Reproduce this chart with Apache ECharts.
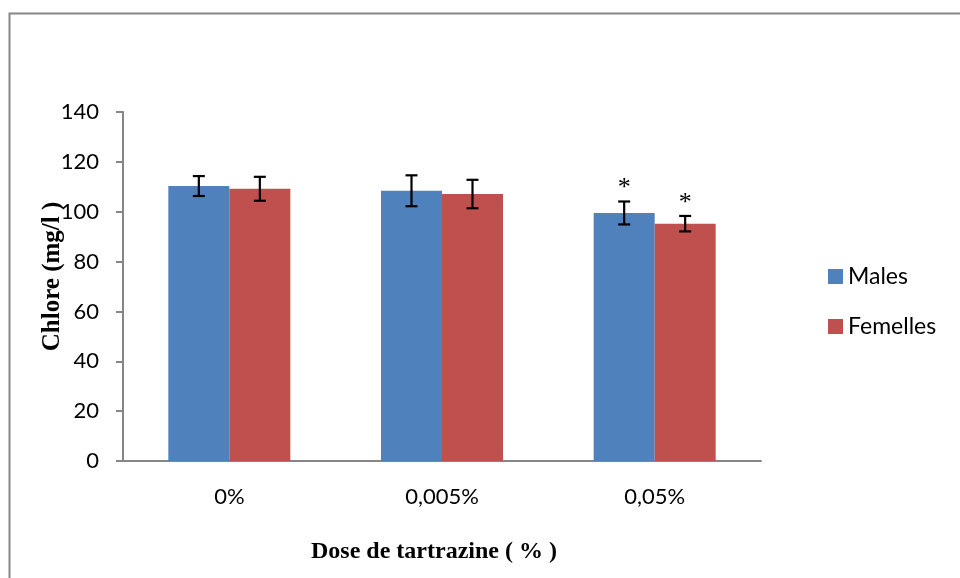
<!DOCTYPE html>
<html>
<head>
<meta charset="utf-8">
<script src="https://cdn.jsdelivr.net/npm/echarts@6/dist/echarts.min.js"></script>
<style>html,body{margin:0;padding:0;background:#fff}#c{width:960px;height:578px}</style>
</head>
<body>
<div id="c"></div>
<script>
var categories = ['0%', '0,005%', '0,05%'];
var yTicks = [0, 20, 40, 60, 80, 100, 120, 140];
var males = [110.3, 108.4, 99.5];
var femelles = [109.2, 107.1, 95.2];
var malesErr = [4.0, 6.2, 4.6];
var femellesErr = [4.8, 5.7, 3.1];
var malesSig = ['', '', '*'];
var femellesSig = ['', '', '*'];

var BAR_W = 61;
var chart = echarts.init(document.getElementById('c'), null, {renderer: 'canvas'});

function errSeries(vals, errs, sigs, offset) {
  var data = vals.map(function (v, i) { return [i, v, errs[i], sigs[i]]; });
  return {
    type: 'custom',
    silent: true,
    z: 10,
    data: data,
    renderItem: function (params, api) {
      var i = api.value(0), v = api.value(1), e = api.value(2);
      var sig = data[params.dataIndex][3];
      var top = api.coord([i, v + e]);
      var bot = api.coord([i, v - e]);
      var x = top[0] + offset;
      var cap = 6;
      var st = {stroke: '#000', lineWidth: 2.2};
      var kids = [
        {type: 'line', shape: {x1: x, y1: top[1], x2: x, y2: bot[1]}, style: st},
        {type: 'line', shape: {x1: x - cap, y1: top[1], x2: x + cap, y2: top[1]}, style: st},
        {type: 'line', shape: {x1: x - cap, y1: bot[1], x2: x + cap, y2: bot[1]}, style: st}
      ];
      if (sig) {
        kids.push({type: 'text', style: {text: sig, x: x, y: top[1] - 13, align: 'center', verticalAlign: 'middle',
          font: '26px "Liberation Serif"', fill: '#000'}});
      }
      return {type: 'group', children: kids};
    }
  };
}

var option = {
  animation: false,
  backgroundColor: '#fff',
  graphic: [{
    type: 'rect', left: 7, top: 11, z: -10,
    shape: {x: 0, y: 0, width: 1200, height: 1000},
    style: {fill: 'none', stroke: '#868686', lineWidth: 2}
  }],
  grid: {left: 123, right: 199, top: 112, bottom: 117, containLabel: false},
  legend: {
    orient: 'vertical', left: 823, top: 260, itemWidth: 15, itemHeight: 15, itemGap: 27,
    icon: 'rect',
    textStyle: {fontFamily: 'Lato, "Open Sans", sans-serif', fontSize: 23, color: '#000'},
    data: ['Males', 'Femelles']
  },
  xAxis: {
    type: 'category', data: categories,
    name: 'Dose de tartrazine ( % )', nameLocation: 'middle', nameGap: 79,
    nameTextStyle: {fontFamily: '"Liberation Serif", serif', fontWeight: 'bold', fontSize: 24, color: '#000',
      padding: [0, 16, 0, 0]},
    axisLine: {lineStyle: {color: '#868686', width: 2}},
    axisTick: {show: false},
    axisLabel: {margin: 25, fontFamily: 'Lato, "Open Sans", sans-serif', fontSize: 22, color: '#000'}
  },
  yAxis: {
    type: 'value', min: 0, max: 140, interval: 20,
    name: 'Chlore (mg/l )', nameLocation: 'middle', nameGap: 58, nameRotate: 90,
    nameMoveOverlap: false,
    nameTextStyle: {fontFamily: '"Liberation Serif", serif', fontWeight: 'bold', fontSize: 25, color: '#000',
      padding: [0, 0, 0, 20]},
    axisLine: {show: true, lineStyle: {color: '#868686', width: 2}},
    axisTick: {show: true, length: 7, lineStyle: {color: '#868686', width: 2}},
    splitLine: {show: false},
    axisLabel: {margin: 24, fontFamily: 'Lato, "Open Sans", sans-serif', fontSize: 22, color: '#000',
      formatter: function (v) { return yTicks.indexOf(v) >= 0 ? String(v) : ''; }}
  },
  series: [
    {name: 'Males', type: 'bar', data: males, barWidth: BAR_W, barGap: '0%',
      itemStyle: {color: '#4F81BD'}},
    {name: 'Femelles', type: 'bar', data: femelles, barWidth: BAR_W, barGap: '0%',
      itemStyle: {color: '#C0504D'}},
    errSeries(males, malesErr, malesSig, -BAR_W / 2),
    errSeries(femelles, femellesErr, femellesSig, BAR_W / 2)
  ]
};
chart.setOption(option);
</script>
</body>
</html>
